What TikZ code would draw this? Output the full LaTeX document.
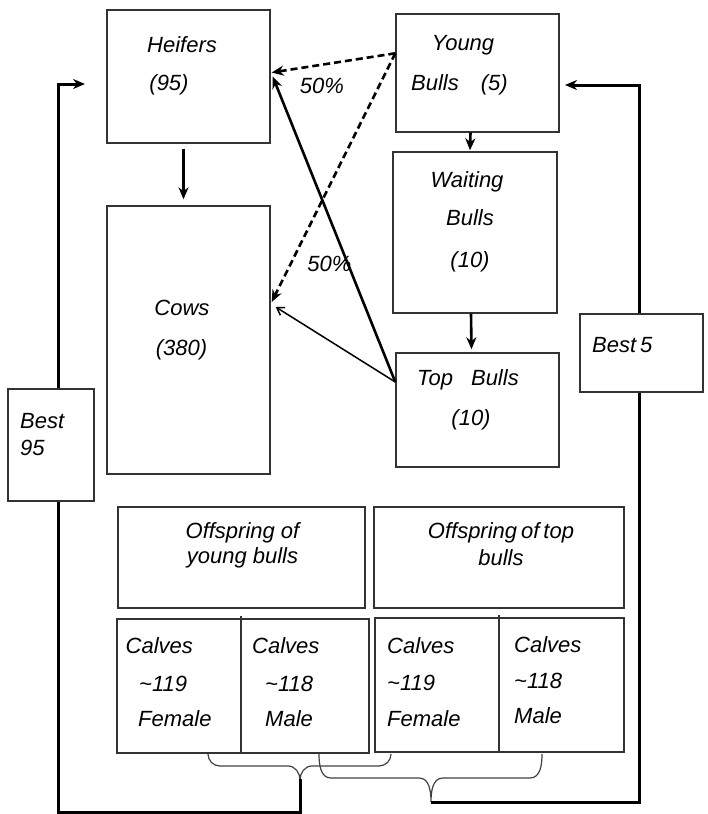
\documentclass[tikz,border=0pt]{standalone}
\usepackage{fontspec}
\setmainfont{Liberation Sans}
\usetikzlibrary{arrows.meta, positioning, calc, fit}
\tikzset{
  herdbox/.style={
    rectangle,
    draw=black!80, line width=1.4pt,
    inner sep=0pt
  },
  txt/.style={
    font=\itshape\fontsize{22}{26}\selectfont,
    inner sep=0pt, anchor=base
  },
  txtl/.style={txt, anchor=base west},
  flow/.style={
    -{Stealth[length=12pt,width=10pt]},
    line width=2.6pt
  },
  mating/.style={
    -{Stealth[length=12pt,width=10pt]},
    line width=2.6pt, dash pattern=on 7pt off 4pt
  },
  thinflow/.style={
    -{Straight Barb[length=7pt,width=9pt]},
    line width=1.5pt
  },
  selline/.style={line width=3pt},
  bracepath/.style={line width=1.2pt, draw=black!75}
}

\begin{document}
\begin{tikzpicture}[x=1pt, y=-1pt]
  \useasboundingbox (0,0) rectangle (707,814);

  % boxes
  \node[herdbox, fit={(107,10) (270,143)}]  (heifers) {};
  \node[herdbox, fit={(107,206) (270,474)}] (cows) {};
  \node[herdbox, fit={(396,14) (559,132)}]  (young) {};
  \node[herdbox, fit={(393,152) (557,313)}] (waiting) {};
  \node[herdbox, fit={(396,353) (559,467)}] (topb) {};
  \node[herdbox, fit={(580,314) (703,392)}] (best5) {};
  \node[herdbox, fit={(8,389) (94,501)}]    (best95) {};
  \node[herdbox, fit={(118,507) (365,608)}] (offyoung) {};
  \node[herdbox, fit={(374,507) (624,608)}] (offtop) {};
  \node[herdbox, fit={(117,619) (369,753)}] (calvyoung) {};
  \node[herdbox, fit={(375,618) (624,752)}] (calvtop) {};
  \draw[line width=1.4pt, black!80] (241,616) -- (241,0 |- calvyoung.south);
  \draw[line width=1.4pt, black!80] (499,615) -- (499,0 |- calvtop.south);

  % texts
  \node[txt] (heifersA) at (182,52) {Heifers};
  \node[txt] (heifersB) at (169,90) {(95)};
  \node[txt] (cowsA) at (182,315) {Cows};
  \node[txt] (cowsB) at (181.5,355) {(380)};
  \node[txt] (youngA) at (463,50) {Young};
  \node[txtl] (youngB) at (411,90) {Bulls\hspace{22pt}(5)};
  \node[txt] (waitA) at (467,187) {Waiting};
  \node[txt] (waitB) at (470,225) {Bulls};
  \node[txt] (waitC) at (470,267) {(10)};
  \node[txtl] (topA) at (417,385) {Top\hspace{18pt}Bulls};
  \node[txt] (topB) at (471,425) {(10)};
  \node[txtl] (best5A) at (592,352) {Best\hspace{4pt}5};
  \node[txtl] (best95A) at (20,428) {Best};
  \node[txtl] (best95B) at (20,455) {95};
  \node[txt] (pctA) at (322,93) {50\%};
  \node[txt] (pctB) at (329.5,271) {50\%};
  \node[txt] (offyA) at (242.5,538) {Offspring of};
  \node[txt] (offyB) at (242.5,563) {young bulls};
  \node[txt] (offtA) at (501,538) {Offspring\hspace{4pt}of\hspace{4pt}top};
  \node[txt] (offtB) at (501,565) {bulls};
  \node[txtl] (cyfA) at (125.5,653) {Calves};
  \node[txtl] (cyfB) at (139,691) {\textasciitilde 119};
  \node[txtl] (cyfC) at (138,726) {Female};
  \node[txtl] (cymA) at (252,653) {Calves};
  \node[txtl] (cymB) at (265,691) {\textasciitilde 118};
  \node[txtl] (cymC) at (265,726) {Male};
  \node[txtl] (ctfA) at (387,653) {Calves};
  \node[txtl] (ctfB) at (387,690) {\textasciitilde 119};
  \node[txtl] (ctfC) at (387,726) {Female};
  \node[txtl] (ctmA) at (514,652) {Calves};
  \node[txtl] (ctmB) at (514,688) {\textasciitilde 118};
  \node[txtl] (ctmC) at (514,723) {Male};

  % flow between groups
  \draw[flow] ($(heifers.south)+(-5,5)$) -- ($(cows.north)+(-5,-6)$);
  \draw[flow] ($(young.south)+(-7,0)$) -- ($(waiting.north)+(-5,-1)$);
  \draw[flow] ($(waiting.south)+(-4,0)$) -- ($(topb.north)+(-6,-3)$);

  % matings
  \draw[mating] ($(young.north west)+(0,40)$) -- ($(heifers.east)+(1,-4)$);
  \draw[mating] ($(young.north west)+(0,40)$) -- ($(cows.east)+(1,-38)$);
  \draw[flow]   ($(topb.west)+(0,-28)$) -- ($(heifers.east)+(2,0)$);
  \draw[thinflow] ($(topb.west)+(0,-28)$) -- ($(cows.east)+(5,-33)$);

  % braces under calves
  \draw[bracepath] (208,754) to[out=-90,in=180] (220,766) -- (288,766)
    to[out=0,in=90] (300,780) to[out=90,in=180] (312,766) -- (379,766)
    to[out=0,in=-90] (391,754);
  \draw[bracepath] (319,754) to[out=-90,in=180] (331,778) -- (419,778)
    to[out=0,in=90] (431,802) to[out=90,in=180] (443,778) -- (530,778)
    to[out=0,in=-90] (542,754);

  % selection back to heifers and young bulls
  \coordinate (heifin) at (85,84);
  \coordinate (youngin) at (565,85);
  \draw[selline] (300,779) -- (300,812) -- (58,812) -- (58,0 |- best95.south);
  \draw[selline, -{Stealth[length=12pt,width=10pt]}] (58,0 |- best95.north) -- (58,84) -- (heifin);
  \draw[selline] (431,802) -- (639,802) -- (639,0 |- best5.south);
  \draw[selline, -{Stealth[length=12pt,width=10pt]}] (639,0 |- best5.north) -- (639,85) -- (youngin);
\end{tikzpicture}
\end{document}
